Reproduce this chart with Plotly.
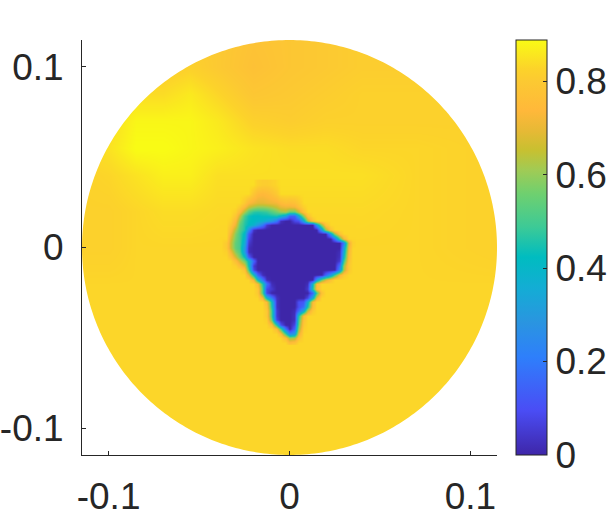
"""Disc heatmap with a parula colour bar."""
import numpy as np
import plotly.graph_objects as go

# whole disc, coarse
bg_x = [-0.12, -0.10, -0.085, -0.07, -0.055, -0.04, -0.02, 0, 0.02, 0.04, 0.07, 0.12]
bg_y = [0.12, 0.10, 0.085, 0.07, 0.055, 0.04, 0.02, 0, -0.02, -0.05, -0.09, -0.12]
bg_rows = [
    [82, 82, 82, 80, 80, 80, 78, 79, 80, 81, 81, 81],
    [82, 82, 82, 81, 82, 80, 77, 79, 80, 81, 81, 81],
    [82, 82, 84, 84, 86, 83, 79, 80, 81, 82, 82, 82],
    [82, 84, 88, 88, 88, 86, 82, 81, 82, 82, 82, 82],
    [82, 85, 89, 89, 88, 87, 85, 84, 84, 83, 83, 82],
    [82, 83, 85, 87, 87, 84.5, 84.5, 84.5, 84.5, 84.5, 83, 82],
    [82, 82, 83, 84, 84, 83.5, 83.5, 83.5, 83.5, 83.5, 83, 82],
    [82, 82, 83, 83, 83, 83, 83, 83, 83, 83, 83, 82],
    [83, 83, 83, 83, 83, 83, 83, 83, 83, 83, 83, 83],
    [83, 83, 83, 83, 83, 83, 83, 83, 83, 83, 83, 83],
    [83, 83, 83, 83, 83, 83, 83, 83, 83, 83, 83, 83],
    [83, 83, 83, 83, 83, 83, 83, 83, 83, 83, 83, 83],
]

# patch around the blob, steps of 0.0025 (k = -15..14 along x)
core_x = [k * 0.0025 for k in range(-15, 15)]
core_y = [m * 0.0025 for m in [14, 12, 10, 9, 8, 7, 6, 5, 4, 3, 2, 1, 0, -1, -2, -3, -4, -5, -6, -7, -8,
                               -9, -10, -11, -12, -13, -14, -15, -16, -17, -18, -19, -20, -21]]


def pad(first_k, vals, level=83):
    """Fill a core row with the surrounding level on both sides of vals."""
    left = first_k + 15
    return [level] * left + vals + [level] * (30 - left - len(vals))


core_rows = [
    pad(-7, [82, 81, 81, 82, 83], 84.25),
    pad(-8, [79, 75, 74, 75, 77, 80], 84),
    pad(-10, [80, 74, 71, 69, 69, 70, 71, 72, 75, 77, 76, 77, 80], 83.75),
    pad(-11, [81, 74, 66, 62, 60, 60, 61, 63, 66, 70, 71, 71, 72, 77, 82], 83.6),
    pad(-12, [82, 75, 62, 52, 47, 46, 47, 48, 52, 56, 60, 62, 55, 55, 66, 78], 83.5),
    pad(-12, [79, 66, 50, 44, 42, 42, 43, 43, 44, 45, 40, 32, 15, 15, 35, 60, 78], 83.4),
    pad(-13, [82, 74, 58, 47, 43, 42, 40, 38, 35, 30, 20, 3, 0, 0, 8, 10, 35, 62, 78], 83.4),
    pad(-13, [80, 70, 54, 46, 42, 38, 30, 20, 5] + [0] * 10 + [30, 60, 78], 83.3),
    pad(-13, [76, 62, 52, 45, 25, 3] + [0] * 14 + [30, 60, 78], 83.2),
    pad(-13, [72, 58, 50, 40, 12] + [0] * 17 + [30, 60, 78], 83.2),
    pad(-13, [68, 56, 50, 38, 8] + [0] * 18 + [18, 50, 72], 83.1),
    pad(-14, [80, 66, 54, 50, 35, 5] + [0] * 20 + [20, 68, 82]),
    pad(-14, [80, 66, 54, 50, 30, 2] + [0] * 20 + [30, 72]),
    pad(-14, [82, 72, 58, 52, 30, 2] + [0] * 19 + [2, 35, 74]),
    pad(-13, [78, 66, 56, 42, 12] + [0] * 19 + [3, 40, 76]),
    pad(-12, [76, 66, 55, 40, 15] + [0] * 18 + [5, 48, 78]),
    pad(-12, [82, 76, 68, 42, 5] + [0] * 18 + [18, 60, 80]),
    pad(-10, [78, 50, 8] + [0] * 18 + [25, 62, 80]),
    pad(-9, [70, 42, 15, 2] + [0] * 13 + [15, 30, 50, 72, 80]),
    pad(-8, [72, 40, 20, 2] + [0] * 10 + [30, 55, 68, 78]),
    pad(-7, [74, 45, 18, 2] + [0] * 7 + [2, 40, 74]),
    pad(-7, [80, 50, 8, 5] + [0] * 7 + [5, 45, 76]),
    pad(-7, [80, 50, 8] + [0] * 9 + [15, 50, 78]),
    pad(-6, [72, 38, 20, 3] + [0] * 6 + [8, 35, 70]),
    pad(-5, [74, 42, 3, 0, 0, 0, 0, 10, 12, 38, 74]),
    pad(-5, [78, 45, 3, 0, 0, 0, 0, 10, 18, 45, 76]),
    pad(-5, [80, 50, 5, 0, 0, 0, 2, 18, 35, 66, 80]),
    pad(-5, [80, 50, 5, 0, 0, 0, 3, 45, 76]),
    pad(-5, [82, 56, 8, 0, 0, 0, 3, 50, 78]),
    pad(-4, [76, 45, 10, 0, 0, 8, 55, 80]),
    pad(-3, [76, 52, 18, 0, 15, 60, 82]),
    pad(-2, [76, 50, 25, 30, 70]),
    pad(-1, [76, 60, 62, 78]),
    pad(0, [76, 78]),
]
axis_ticks = [-0.1, 0, 0.1]
axis_labels = ["-0.1", "0", "0.1"]
bar_ticks = [0, 0.2, 0.4, 0.6, 0.8]
bar_labels = ["0", "0.2", "0.4", "0.6", "0.8"]

Z_MAX = 0.888
RADIUS = 0.1147
TEXT = "#262626"
FONT = "Liberation Sans, Arial, sans-serif"

parula = [
    [0.0, "#3e26a8"], [0.108, "#4a4df5"], [0.236, "#2e7ffb"], [0.32, "#2a95e0"],
    [0.40, "#14acd5"], [0.477, "#00bcc0"], [0.55, "#3dca96"], [0.63, "#6fd06f"],
    [0.686, "#a0cb55"], [0.735, "#c8c030"], [0.78, "#e6b935"], [0.83, "#ffb83a"],
    [0.9, "#fcc932"], [0.93, "#fcd32a"], [1.0, "#f9fb15"],
]

fig = go.Figure()
fig.add_trace(go.Heatmap(
    x=bg_x, y=bg_y[::-1], z=(np.array(bg_rows[::-1]) / 100),
    zmin=0, zmax=Z_MAX, zsmooth="best", colorscale=parula, hoverinfo="skip",
    colorbar=dict(
        tickmode="array", tickvals=bar_ticks, ticktext=bar_labels,
        ticks="inside", ticklen=4, tickcolor=TEXT, tickwidth=1,
        tickfont=dict(family=FONT, size=37, color=TEXT),
        thickness=31, thicknessmode="pixels", len=415, lenmode="pixels",
        x=1.046, xanchor="left", xpad=0, y=0, yanchor="bottom", ypad=0,
        outlinecolor=TEXT, outlinewidth=1,
    ),
))
fig.add_trace(go.Heatmap(
    x=core_x, y=core_y[::-1], z=(np.array(core_rows[::-1]) / 100),
    zmin=0, zmax=Z_MAX, zsmooth="best", colorscale=parula, hoverinfo="skip",
    showscale=False,
))

# white mask around the disc: outer box, then the circle the other way round
angle = np.linspace(2 * np.pi, 0, 361)
mask_x = [-0.2, 0.2, 0.2, -0.2, -0.2] + list(RADIUS * np.cos(angle))
mask_y = [-0.2, -0.2, 0.2, 0.2, -0.2] + list(RADIUS * np.sin(angle))
fig.add_trace(go.Scatter(x=mask_x, y=mask_y, mode="none", fill="toself",
                         fillcolor="white", hoverinfo="skip", showlegend=False))

axis_style = dict(
    tickmode="array", tickvals=axis_ticks, ticktext=axis_labels,
    ticks="inside", ticklen=4, tickcolor=TEXT, tickwidth=1,
    showline=True, linecolor=TEXT, linewidth=1, showgrid=False, zeroline=False,
    tickfont=dict(family=FONT, size=37, color=TEXT),
    range=[-RADIUS, RADIUS], automargin=False,
)
fig.update_xaxes(**axis_style, ticklabelstandoff=9)
fig.update_yaxes(**axis_style, ticklabelstandoff=10)
fig.update_layout(
    width=607, height=517, autosize=False,
    margin=dict(l=82, r=110, t=40, b=62, autoexpand=False),
    paper_bgcolor="white", plot_bgcolor="white",
    showlegend=False,
)
fig.write_html("out.html", config={"displayModeBar": False},
               post_script="document.body.style.margin = '0';")
